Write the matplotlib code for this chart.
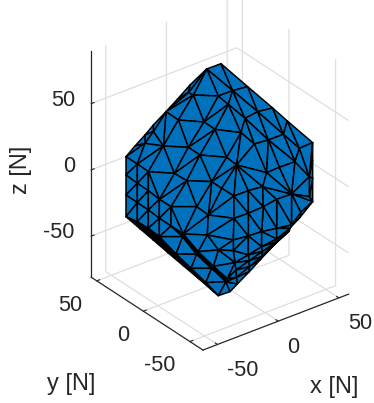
import numpy as np
import matplotlib
matplotlib.use("Agg")
import matplotlib.pyplot as plt
from matplotlib.text import Text
from mpl_toolkits.mplot3d.art3d import Poly3DCollection
from mpl_toolkits.mplot3d import proj3d

plt.rcParams['font.family'] = ['Liberation Sans', 'DejaVu Sans']
plt.rcParams['axes.unicode_minus'] = False

x_ticks = [-50, 0, 50]
y_ticks = [-50, 0, 50]
z_ticks = [-50, 0, 50]
x_limits = (-62, 58)
y_limits = (-64, 56)
z_limits = (-81, 90)

# mesh vertices (3x-zoom pixel readings, in the view plane)
mesh_pts = [
 (350,87),(393,71),(473,140),(548,204),(592,243),(668,308),(668,360),(668,415),(668,485),
 (630,532),(590,575),(545,622),(510,660),(478,695),(442,732),(420,755),(385,767),
 (108,530),(108,465),(108,405),(108,350),(135,318),(165,285),(190,255),(228,215),(262,178),(300,135),
 (190,275),(165,310),(295,158),
 (310,165),(385,168),(428,152),(415,193),(342,246),(265,240),(220,318),(295,322),(330,345),
 (410,352),(375,268),(453,278),(465,235),(503,215),(493,312),(535,300),(580,283),(628,325),(615,365),
 (440,375),(142,372),(175,395),(253,400),(290,422),(365,425),(395,445),
 (142,430),(142,488),(142,545),(175,452),(175,510),(175,565),(208,478),(208,535),(208,590),
 (243,500),(243,558),(320,500),(355,525),
 (530,398),(568,382),(632,517),(605,462),(605,555),(658,410),(658,470),(600,565),
 (518,440),(475,452),(432,468),(560,478),(520,500),(475,520),(432,535),(560,597),
 (430,600),(475,588),(515,575),(560,565),(352,585),(280,582),(385,630),(324,635),(430,632),(435,668),(370,679),
 (412,716),
 (278,590),(320,643),(365,685),(408,725),
 (258,642),(303,685),(347,728),
 (150,566),(190,600),(235,639),(280,677),(325,715),(372,756),
 (475,645),(515,620),
 (438,690),(478,662),(518,634),(560,606),(598,572),
 (440,712),(478,680),(515,650),(552,615),(595,575),
]
lens_rows = [[94,110,111,84,76],[112,113,114,115,116],[117,118,119,120,121],[14,13,12,11,10]]
mesh_tris = [
 (0,1,32),(0,32,31),(0,31,30),(1,2,32),(0,29,30),(26,0,29),(25,26,29),(24,25,29),(24,29,30),
 (30,31,34),(31,33,34),(31,32,33),(32,42,33),(32,2,43),(32,43,42),(2,3,43),
 (33,40,41),(33,41,42),(33,34,40),(24,30,35),(30,34,35),(35,34,37),(34,40,37),(37,40,38),(38,40,39),
 (40,41,39),(41,49,39),(41,42,44),(41,44,49),(42,43,45),(42,45,44),(43,3,46),(43,46,45),(3,4,46),
 (4,47,46),(4,5,47),(46,47,48),(45,46,48),(45,48,70),(44,45,69),(45,70,69),(44,69,49),
 (24,35,36),(24,36,27),(23,24,27),(22,23,27),(22,27,28),(21,22,28),(20,21,28),(27,36,28),(20,28,50),
 (28,36,50),(36,51,50),(36,35,37),(36,37,52),(37,38,52),(36,52,51),(52,38,53),(38,54,53),(38,39,54),
 (39,49,54),(54,49,55),(49,79,55),(49,78,79),(49,77,78),(49,69,77),(55,79,68),(54,55,68),(54,68,67),
 (53,54,67),(53,67,65),(62,53,65),(52,53,62),(51,52,62),
 (20,50,19),(19,50,56),(19,56,18),(18,56,57),(18,57,17),(17,57,58),
 (50,51,56),(51,59,56),(56,59,57),(59,60,57),(57,60,58),(60,61,58),
 (51,62,59),(59,62,60),(62,63,60),(60,63,61),(63,64,61),
 (62,65,63),(65,66,63),(63,66,64),
 (65,90,66),(65,67,90),(67,68,90),(68,89,90),(68,79,83),(68,83,89),(83,85,89),
 (79,82,83),(79,78,82),(78,81,82),(78,77,81),(77,80,81),(77,72,80),
 (80,72,73),(80,73,88),(81,80,88),(81,88,87),(82,81,87),(82,87,86),(83,82,86),(83,86,85),
 (85,86,93),(86,110,93),(93,110,94),(86,87,111),(86,111,110),(87,88,84),(87,84,111),
 (69,70,72),(77,69,72),(70,48,72),(48,74,72),(47,74,48),(47,5,74),(5,6,74),(6,7,74),(7,8,75),(74,7,75),
 (72,74,75),(72,75,8),(72,8,71),(71,8,9),(73,9,10),(71,9,73),(72,71,73),(73,10,76),(88,73,76),(88,76,84),
 (89,85,91),(85,93,91),(91,93,94),(91,94,95),(89,91,92),(92,91,95),(95,94,96),(90,89,92),
 (64,66,97),(64,97,101),(97,98,101),(101,98,102),(98,99,102),(102,99,103),(99,100,103),(103,100,16),
 (100,15,16),(100,14,15),(94,112,96),(96,112,117),(96,117,100),(100,117,14),
]
for a, b in zip(lens_rows[:-1], lens_rows[1:]):
    for i in range(len(a) - 1):
        mesh_tris += [(a[i], a[i+1], b[i+1]), (a[i], b[i+1], b[i])]
# folds so narrow that their edges merge into solid black
fold_tris = [
 (66,90,97),(90,92,98),(90,98,97),(92,95,99),(92,99,98),(95,96,100),(95,100,99),
 (17,58,104),(58,61,104),(61,105,104),(61,64,105),(64,106,105),(64,101,106),(101,107,106),
 (101,102,107),(102,108,107),(102,103,108),(103,109,108),(103,16,109),
]

W, H, DPI = 374, 403, 100
SCALE = 1.53            # pixels per newton
ORIGIN_PX = (218.6, 175.0)
ELEV, AZIM = 30.0, -127.5

pts = np.array(mesh_pts, float)
px = 90 + pts[:, 0] / 3
py = 40 + pts[:, 1] / 3
right = (px - ORIGIN_PX[0]) / SCALE
up = -(py - ORIGIN_PX[1]) / SCALE
az, el = np.radians(AZIM), np.radians(ELEV)
R = np.array([-np.sin(az), np.cos(az), 0.0])
U = np.array([-np.sin(el)*np.cos(az), -np.sin(el)*np.sin(az), np.cos(el)])
xyz = np.outer(right, R) + np.outer(up, U)

fig = plt.figure(figsize=(W/DPI, H/DPI), dpi=DPI)
ax = fig.add_axes([0, 0, 1, W/H], projection='3d', proj_type='ortho')
ax.view_init(elev=ELEV, azim=AZIM)
ax.set_xlim(*x_limits); ax.set_ylim(*y_limits); ax.set_zlim(*z_limits)
ax.set_box_aspect((x_limits[1]-x_limits[0], y_limits[1]-y_limits[0], z_limits[1]-z_limits[0]))
ax.patch.set_alpha(0)

TEXT = (0.15, 0.15, 0.15)
TICK_SIZE, LABEL_SIZE = 15.7, 17
axis_setup = [(ax.xaxis, x_ticks, 'x [N]', (334, 387), 0, 'left', 'top', (2.5, -2.5)),
              (ax.yaxis, y_ticks, 'y [N]', (71, 384), 0, 'right', 'top', (-5.5, -3.0)),
              (ax.zaxis, z_ticks, 'z [N]', (21, 170), 90, 'right', 'bottom', (-1.0, 8.0))]
for axis, ticks, lbl, lpos, lrot, tha, tva, nudge in axis_setup:
    axis.set_ticks(ticks)
    axis.set_pane_color((1, 1, 1, 0))
    axis.pane.set_edgecolor((1, 1, 1, 0))
    axis.line.set_color(TEXT); axis.line.set_linewidth(0.9)
    axis._axinfo['grid'].update(color=(0.87, 0.87, 0.87), linewidth=0.9)
    axis._axinfo['tick'].update(inward_factor=0.0, outward_factor=0.25, linewidth={True: 0.8, False: 0.8}, color=TEXT)
    axis.set_label_text(lbl, fontsize=LABEL_SIZE, color=TEXT)
    axis.set_rotate_label(False)
    axis.label.set_rotation(lrot)
ax.tick_params(axis='both', labelsize=TICK_SIZE, labelcolor=TEXT, color=TEXT, pad=0)

colors = ['#0072BD'] * len(mesh_tris) + ['black'] * len(fold_tris)
poly = Poly3DCollection([xyz[list(t)] for t in mesh_tris + fold_tris],
                        facecolors=colors, edgecolors='black', linewidths=1.1)
ax.add_collection3d(poly)

# place the axes so that one newton is SCALE pixels and the origin lands on ORIGIN_PX
def project(p):
    ax.apply_aspect()
    M = ax.get_proj()
    a, b, _ = proj3d.proj_transform(p[0], p[1], p[2], M)
    return ax.transData.transform((a, b))
for _ in range(3):
    p0 = project((0, 0, 0)); p1 = project((0, 0, 50))
    s = np.hypot(*(p1 - p0)) / (50*np.cos(el))
    pos = ax.get_position(original=True)
    f = SCALE / s
    wn, hn = pos.width*f, pos.height*f
    ax.set_position([pos.x0, pos.y0, wn, hn])
    p0 = project((0, 0, 0))
    tx, ty = ORIGIN_PX[0], H - ORIGIN_PX[1]
    ax.set_position([pos.x0 + (tx-p0[0])/W, pos.y0 + (ty-p0[1])/H, wn, hn])
ax.apply_aspect()

# pin text placement to the pixel positions
inv = ax.transData.inverted()
def to_data(px_x, px_y):
    return inv.transform((px_x, H - px_y))
def offset_data(dx, dy):
    a = to_data(0, 0); b = to_data(dx, dy)
    return b - a
for axis, ticks, lbl, lpos, lrot, tha, tva, nudge in axis_setup:
    Text.set_position(axis.label, tuple(to_data(*lpos)))
    axis.label.set_position = lambda *a, **k: None
    off = offset_data(*nudge)
    for t in axis.get_major_ticks():
        lab = t.label1
        lab.set_ha(tha); lab.set_va(tva)
        def shifted(p, lab=lab, off=off):
            Text.set_position(lab, (p[0] + off[0], p[1] + off[1]))
        lab.set_position = shifted

fig.savefig('out.png', dpi=DPI)
